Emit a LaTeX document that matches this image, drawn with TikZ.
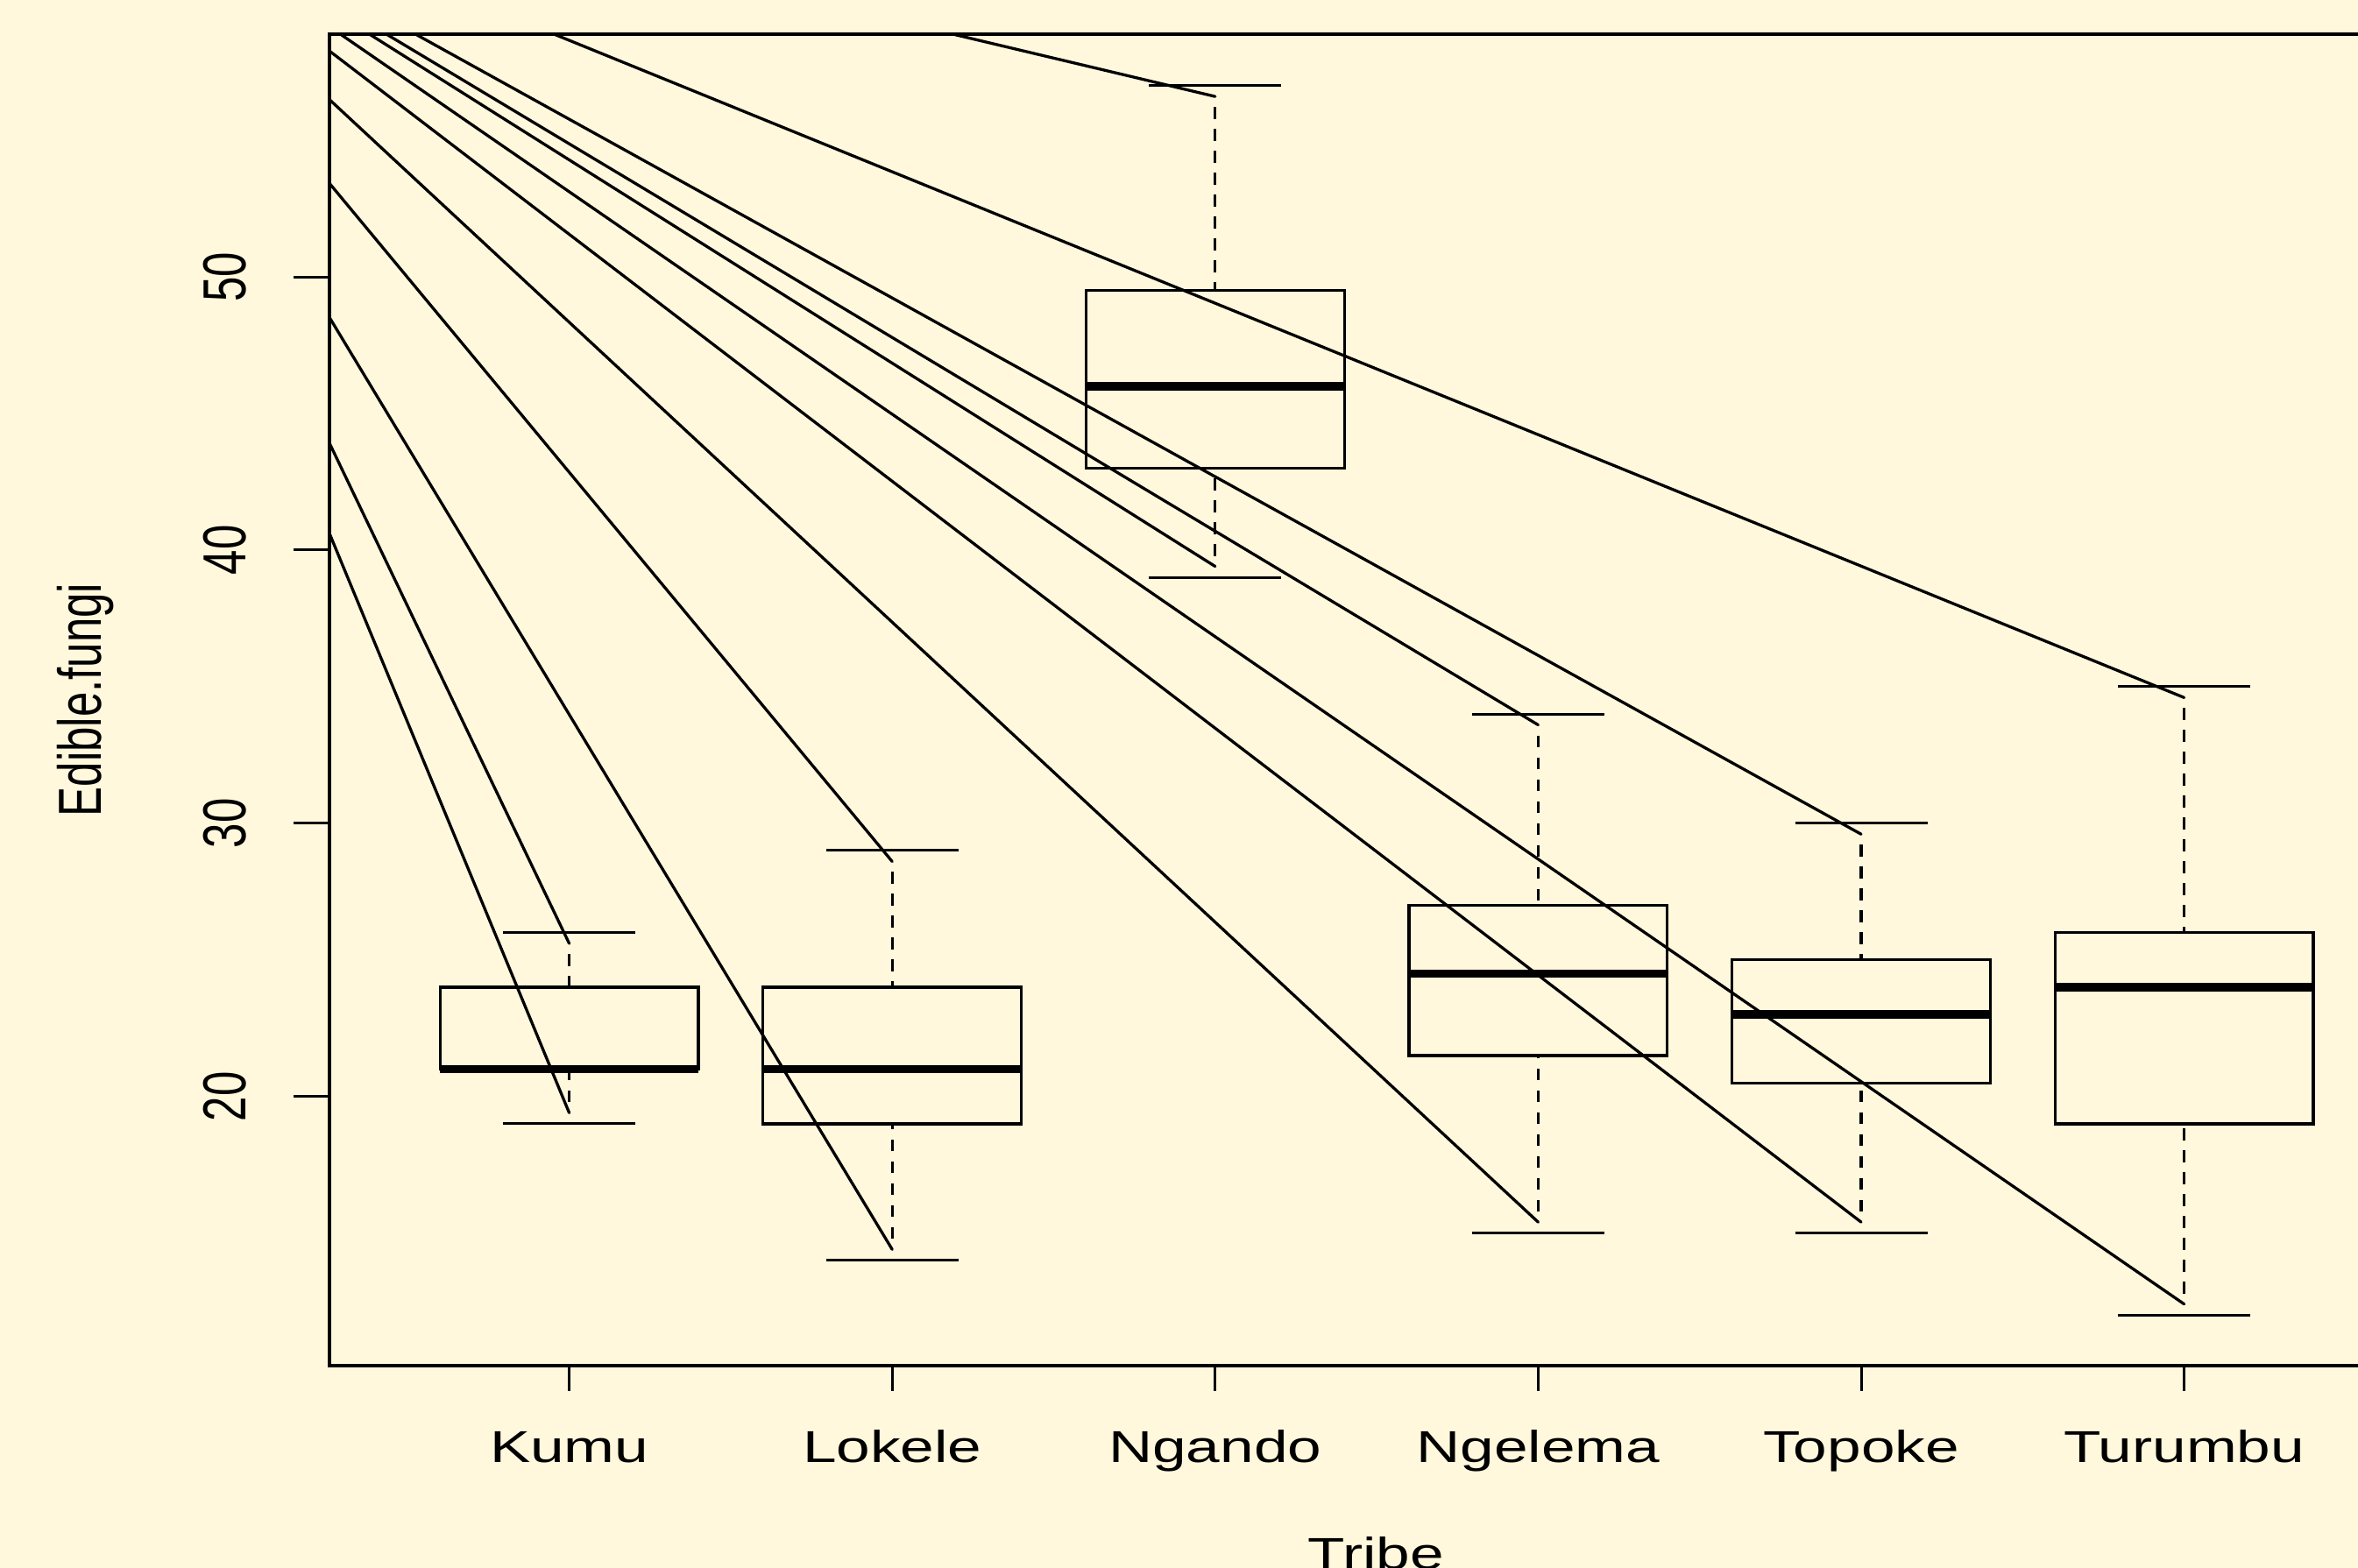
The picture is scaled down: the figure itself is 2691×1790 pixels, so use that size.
\documentclass[tikz,border=0pt]{standalone}
\usepackage{fontspec}
\setmainfont{Liberation Sans}
\usetikzlibrary{calc}
\definecolor{bgcream}{HTML}{FFF8DC}
\newcommand{\hstr}[1]{\scalebox{1.36}[1]{#1}}
\newcommand{\vstr}[1]{\scalebox{1}[1.36]{#1}}
\begin{document}
\begin{tikzpicture}[x=1pt,y=-1pt,
  frame/.style={line width=3.4pt},
  tickln/.style={line width=3pt},
  boxln/.style={line width=3.2pt},
  medln/.style={line width=9.5pt},
  capln/.style={line width=3pt},
  whisk/.style={line width=3.3pt, dash pattern=on 13.5pt off 11.5pt},
  ray/.style={line width=3.3pt, line cap=round},
  lab/.style={inner sep=0pt, font=\fontsize{51}{61}\selectfont}]
\useasboundingbox (0,0) rectangle (2691,1790);
\clip (0,0) rectangle (2691,1790);
\fill[bgcream] (0,0) rectangle (2691,1790);

% boxes, whiskers, ticks and group labels
\foreach \i/\nm/\lo/\qa/\me/\qb/\hi in {1/Kumu/19/21/21/24/26, 2/Lokele/14/19/21/24/29, 3/Ngando/39/43/46/49.5/57, 4/Ngelema/15/21.5/24.5/27/34, 5/Topoke/15/20.5/23/25/30, 6/Turumbu/12/19/24/26/35}{
  \pgfmathsetmacro{\xc}{649.6+368.6*(\i-1)}
  \pgfmathsetmacro{\ylo}{1875.5-31.19*\lo}
  \pgfmathsetmacro{\yqa}{1875.5-31.19*\qa}
  \pgfmathsetmacro{\yme}{1875.5-31.19*\me}
  \pgfmathsetmacro{\yqb}{1875.5-31.19*\qb}
  \pgfmathsetmacro{\yhi}{1875.5-31.19*\hi}
  \coordinate (lo\i) at (\xc,\ylo-12.5);
  \coordinate (hi\i) at (\xc,\yhi+12.5);
  \draw[whisk] (\xc,\yhi+24.5) -- (\xc,\yqb);
  \draw[whisk] (\xc,\ylo-24.5) -- (\xc,\yqa);
  \draw[capln] (\xc-75.5,\yhi) -- (\xc+75.5,\yhi);
  \draw[capln] (\xc-75.5,\ylo) -- (\xc+75.5,\ylo);
  \draw[boxln] (\xc-147.4,\yqb) rectangle (\xc+147.4,\yqa);
  \draw[medln] (\xc-147.4,\yme) -- (\xc+147.4,\yme);
  \draw[tickln] (\xc,1559) -- (\xc,1588);
  \node[lab, anchor=base] (glab\i) at (\xc,1669) {\hstr{\nm}};
}

% y axis ticks and labels
\foreach \v in {20,30,40,50}{
  \pgfmathsetmacro{\yy}{1875.5-31.19*\v}
  \draw[tickln] (376,\yy) -- (335,\yy);
  \node[lab, rotate=90, anchor=south] (ytl\v) at (281.7,\yy) {\vstr{\v}};
}

% rays, clipped to the plot region
\begin{scope}
  \clip (376,39) rectangle (2763,1559);
  \coordinate (s1) at (376,609);
  \coordinate (s2) at (376,505.9);
  \coordinate (s3) at (376,362.4);
  \coordinate (s4) at (376,209.3);
  \coordinate (s5) at (421.6,39);
  \coordinate (s6) at (1087.5,39);
  \coordinate (s7) at (376,113.7);
  \coordinate (s8) at (441,39);
  \coordinate (s9) at (376,58.2);
  \coordinate (s10) at (474.2,39);
  \coordinate (s11) at (388.5,39);
  \coordinate (s12) at (632.3,39);
  \foreach \e/\s in {lo1/s1, hi1/s2, lo2/s3, hi2/s4, lo3/s5, hi3/s6, lo4/s7, hi4/s8, lo5/s9, hi5/s10, lo6/s11, hi6/s12}{
    \draw[ray] ($(\e)!1.6!(\s)$) -- (\e);
  }
\end{scope}

% plot frame
\draw[frame] (376,39) rectangle (2763,1559);

% axis titles
\node[lab, anchor=base] (xtitle) at (1570,1791) {\hstr{Tribe}};
\node[lab, rotate=90, anchor=base] (ytitle) at (115,799) {\vstr{Edible.fungi}};
\end{tikzpicture}
\end{document}
